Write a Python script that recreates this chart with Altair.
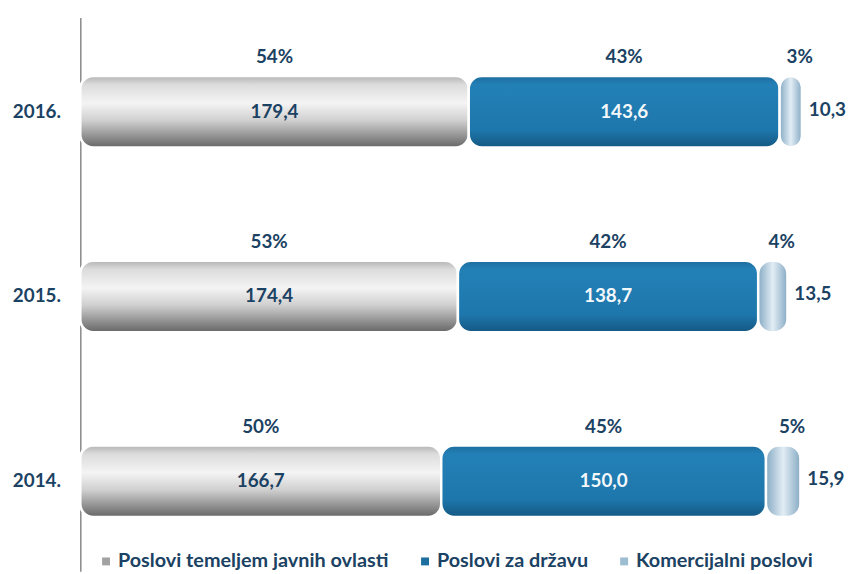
import altair as alt
import pandas as pd

years = ["2016.", "2015.", "2014."]
categories = ["Poslovi temeljem javnih ovlasti", "Poslovi za državu", "Komercijalni poslovi"]
javne = [179.4, 174.4, 166.7]
drzava = [143.6, 138.7, 150.0]
komerc = [10.3, 13.5, 15.9]
pct_javne = [54, 53, 50]
pct_drzava = [43, 42, 45]
pct_komerc = [3, 4, 5]

NAVY = "#1b4263"
FONT = "Lato"
legend_colors = ["#a2a2a2", "#1d6fa0", "#9dbdd3"]

rows = []
for i, yr in enumerate(years):
    for k, (cat, vals, pcts) in enumerate(zip(categories, [javne, drzava, komerc],
                                              [pct_javne, pct_drzava, pct_komerc])):
        rows.append({"year": yr, "cat": cat, "order": k, "value": vals[i],
                     "label": f"{vals[i]:.1f}".replace(".", ","),
                     "pct": f"{pcts[i]}%"})
df = pd.DataFrame(rows)


def grad(stops, horizontal=False):
    return alt.LinearGradient(
        gradient="linear",
        stops=[alt.GradientStop(color=c, offset=o) for o, c in stops],
        x1=0, y1=0,
        x2=1 if horizontal else 0,
        y2=0 if horizontal else 1,
    )


grads = [
    grad([(0, "#b4b4b4"), (0.12, "#dcdcdc"), (0.38, "#f4f4f4"), (0.62, "#d0d0d0"), (1, "#666666")]),
    grad([(0, "#1d6c9d"), (0.12, "#2380b6"), (0.75, "#1e77ac"), (1, "#145883")]),
    grad([(0, "#86aac3"), (0.5, "#e2edf5"), (1, "#86aac3")], horizontal=True),
]

base = alt.Chart(df).transform_stack(
    stack="value", groupby=["year"], as_=["x0", "x1"],
    sort=[alt.SortField("order", order="ascending")],
).transform_calculate(mid="(datum.x0 + datum.x1) / 2")

y_enc = alt.Y(
    "year:N", sort=years,
    scale=alt.Scale(paddingInner=0.614, paddingOuter=0.3057, align=0.518),
    axis=alt.Axis(title=None, ticks=False, domainColor="#888888", domainWidth=1.5,
                  labelFont=FONT, labelFontWeight="bold", labelFontSize=19,
                  labelColor=NAVY, labelPadding=20, minExtent=67, maxExtent=67),
)
x_scale = alt.Scale(domain=[0, 350], nice=False, zero=True)

bars = base.mark_bar(cornerRadius=13, stroke="white", strokeWidth=2.5).encode(
    x=alt.X("x0:Q", scale=x_scale, axis=None),
    x2="x1:Q",
    y=y_enc,
    color=alt.Color(
        "cat:N",
        scale=alt.Scale(domain=categories, range=legend_colors),
        legend=alt.Legend(
            orient="none", legendX=16, legendY=539, direction="horizontal",
            title=None, symbolType="square", symbolSize=64, symbolStrokeWidth=0,
            labelFont=FONT, labelFontWeight="bold", labelFontSize=20,
            labelColor=NAVY, labelOffset=2, columnPadding=26, labelLimit=400,
        ),
    ),
)

layers = [bars]
for k, g in enumerate(grads):
    layers.append(
        base.transform_filter(f"datum.order == {k}")
        .mark_bar(cornerRadius=13, stroke="white", strokeWidth=2.5, fill=g)
        .encode(x=alt.X("x0:Q", scale=x_scale, axis=None), x2="x1:Q", y=y_enc)
    )

inner = base.transform_filter("datum.order < 2").mark_text(
    font=FONT, fontWeight="bold", fontSize=19
).encode(
    x=alt.X("mid:Q", scale=x_scale, axis=None),
    y=y_enc,
    text="label:N",
    color=alt.condition("datum.order == 0", alt.value(NAVY), alt.value("#f4f8fb")),
)

outer = base.transform_filter("datum.order == 2").mark_text(
    font=FONT, fontWeight="bold", fontSize=19, align="left", dx=7, dy=-2, color=NAVY
).encode(
    x=alt.X("x1:Q", scale=x_scale, axis=None),
    y=y_enc,
    text="label:N",
)

pcts_main = base.transform_filter("datum.order < 2").mark_text(
    font=FONT, fontWeight="bold", fontSize=19, dy=-55, color=NAVY
).encode(
    x=alt.X("mid:Q", scale=x_scale, axis=None),
    y=y_enc,
    text="pct:N",
)

pcts_small = base.transform_filter("datum.order == 2").mark_text(
    font=FONT, fontWeight="bold", fontSize=19, dy=-55, dx=9, color=NAVY
).encode(
    x=alt.X("mid:Q", scale=x_scale, axis=None),
    y=y_enc,
    text="pct:N",
)

chart = alt.layer(*layers, inner, outer, pcts_main, pcts_small).properties(
    width=765, height=559,
    padding={"left": 4, "top": 7, "right": 0, "bottom": 0},
).configure_view(stroke=None)

chart.save("out.html", embed_options={"renderer": "svg", "actions": False})
